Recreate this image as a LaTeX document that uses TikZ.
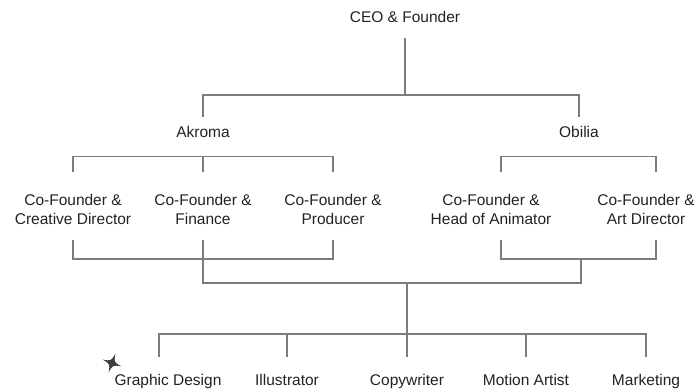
\documentclass[tikz,border=0pt]{standalone}
\usepackage{fontspec}
\setmainfont{Liberation Sans}
\usepackage{tikz}
\usetikzlibrary{positioning}

\definecolor{ink}{HTML}{222222}
\definecolor{linegray}{HTML}{7c7c7c}
\definecolor{sparkgray}{HTML}{3f3f3f}

\begin{document}
\begin{tikzpicture}[
  x=1pt, y=-1pt,
  font=\fontsize{15.5}{19}\selectfont,
  role/.style={inner sep=0pt, text=ink, text height=11pt, text depth=3pt},
  founder/.style={inner sep=0pt, text=ink, align=center, anchor=base},
  link/.style={draw=linegray, line width=1.3pt}
]
\useasboundingbox (0,0) rectangle (694,390);

% top and the two studios
\node[role] (ceo) at (405,19) {CEO \& Founder};
\node[role] (akroma) at (203,134) {Akroma};
\node[role] (obilia) at (579,134) {Obilia};

% co-founders (base = second line)
\node[founder] (creative) at (73,225) {Co-Founder \&\\Creative Director};
\node[founder] (finance) at (203,225) {Co-Founder \&\\Finance};
\node[founder] (producer) at (333,225) {Co-Founder \&\\Producer};
\node[founder] (animator) at (491,225) {Co-Founder \&\\Head of Animator};
\node[founder] (artdir) at (646,225) {Co-Founder \&\\Art Director};

% teams
\node[role] (graphic) at (168,381) {Graphic Design};
\node[role, on grid, right=119pt of graphic] (illus) {Illustrator};
\node[role, on grid, right=120pt of illus] (copy) {Copywriter};
\node[role, on grid, right=119pt of copy] (motion) {Motion Artist};
\node[role, on grid, right=120pt of motion] (marketing) {Marketing};

\coordinate (studios) at (405,95);
\coordinate (obiliajoin) at (581,259);
\coordinate (merge) at (407,283);
\coordinate (teams) at (407,334);

\draw[link] ([yshift=-15pt]ceo.base) -- (studios);
\draw[link] ([yshift=10pt]akroma.north) |- (studios) -| ([yshift=10pt]obilia.north);

% studio brackets
\draw[link] ([yshift=23pt]creative.north) |- ([yshift=-15pt]akroma.south) -| ([yshift=23pt]producer.north);
\draw[link] ([yshift=-15pt]akroma.south) -- ([yshift=23pt]finance.north);
\draw[link] ([xshift=10pt,yshift=23pt]animator.north) |- ([yshift=-15pt]obilia.south) -| ([xshift=10pt,yshift=23pt]artdir.north);

% co-founders back down to the teams
\draw[link] ([yshift=-15pt]creative.base) -- ++(0,19) -| ([yshift=-15pt]producer.base);
\draw[link] ([xshift=10pt,yshift=-15pt]animator.base) -- ++(0,19) -| ([xshift=10pt,yshift=-15pt]artdir.base);
\draw[link] ([yshift=-15pt]finance.base) |- (merge) -| (obiliajoin);
\draw[link] (merge) -- (teams);
\draw[link] ([xshift=-9pt,yshift=17pt]graphic.north) |- (teams) -| ([yshift=17pt]marketing.north);
\foreach \t in {illus,copy,motion}
  \draw[link] (teams -| \t.north) -- ([yshift=17pt]\t.north);

% sparkle
\fill[sparkgray, rotate around={-20:(112,363)}]
  (112,353) .. controls (113.5,361.5) .. (122,363)
  .. controls (113.5,364.5) .. (112,373)
  .. controls (110.5,364.5) .. (102,363)
  .. controls (110.5,361.5) .. (112,353) -- cycle;
\end{tikzpicture}
\end{document}
